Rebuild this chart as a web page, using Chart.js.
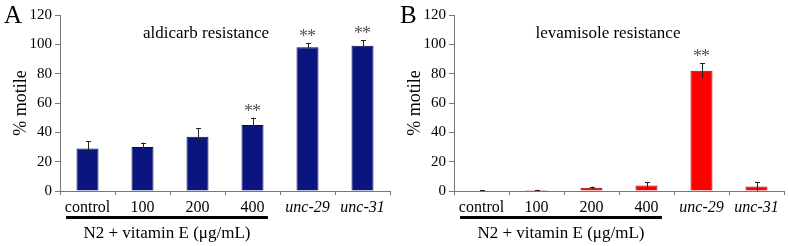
<!DOCTYPE html>
<html>
<head>
<meta charset="utf-8">
<script src="https://cdn.jsdelivr.net/npm/chart.js@4/dist/chart.umd.min.js"></script>
<style>
body{margin:0;background:#fff;}
#wrap{position:relative;width:788px;height:246px;}
.panel{position:absolute;top:0;width:394px;height:246px;}
</style>
</head>
<body>
<div id="wrap">
  <div class="panel" style="left:0"><canvas id="chartA"></canvas></div>
  <div class="panel" style="left:394px"><canvas id="chartB"></canvas></div>
</div>
<script>

// data
const categories=["control","100","200","400","unc-29","unc-31"];
const italicCats=["unc-29","unc-31"];

const aldicarbValues=[29,30,37,45,98,99];
const aldicarbErrors=[5,3,6,5,3,4];
const aldicarbStars=["","","","**","**","**"];

const levamisoleValues=[0.3,0.6,2.2,3.8,82,3];
const levamisoleErrors=[0.2,0.3,0.8,2.2,5,3];
const levamisoleStars=["","","","","**",""];

const yTicks=[0,20,40,60,80,100,120];

const SERIF="'Liberation Serif','Times New Roman',serif";

// ---------------------
// plugin: error bars, stars, group label
// ---------------------

const extras={
    id:"extras",
    afterDatasetsDraw(chart,args,opts){

        const ctx=chart.ctx;
        const x=chart.scales.x;
        const y=chart.scales.y;
        const vals=chart.data.datasets[0].data;

        ctx.save();

        // error bars
        ctx.strokeStyle="#222";
        ctx.lineWidth=1;
        vals.forEach((v,i)=>{
            const e=opts.errors[i];
            const cx=Math.round(x.getPixelForValue(i))+0.5;
            const top=y.getPixelForValue(v+e);
            const bot=y.getPixelForValue(Math.max(v-e,0));
            ctx.beginPath();
            ctx.moveTo(cx,top);ctx.lineTo(cx,bot);
            ctx.moveTo(cx-2.5,Math.round(top)+0.5);ctx.lineTo(cx+2.5,Math.round(top)+0.5);
            ctx.stroke();
        });

        // stars (two asterisks, a little apart)
        ctx.fillStyle="#555";
        ctx.font="18px "+SERIF;
        ctx.textAlign="center";
        ctx.textBaseline="alphabetic";
        vals.forEach((v,i)=>{
            if(!opts.stars[i]) return;
            const cx=x.getPixelForValue(i);
            const top=y.getPixelForValue(v+opts.errors[i]);
            ctx.fillText("*",cx-4,top-1);
            ctx.fillText("*",cx+4,top-1);
        });

        // title
        ctx.fillStyle="#000";
        ctx.font="17px "+SERIF;
        ctx.fillText(opts.title,opts.titleX,38);

        // panel letter
        ctx.textAlign="left";
        ctx.font="25px "+SERIF;
        ctx.fillText(opts.letter,opts.letterX,23);

        // group underline
        const step=x.getPixelForValue(1)-x.getPixelForValue(0);
        const x0=x.getPixelForValue(0)-step*0.39;
        const x1=x.getPixelForValue(3)+step*0.28;
        ctx.fillStyle="#000";
        ctx.fillRect(x0,216,x1-x0,3);

        ctx.textAlign="center";
        ctx.font="17px "+SERIF;
        ctx.fillText("N2 + vitamin E (\u03bcg/mL)",(x0+x1)/2,238);

        ctx.restore();
    }
};

function makeChart(id,values,errors,stars,color,border,title,titleX,letter,letterX){

    new Chart(document.getElementById(id),{

        type:"bar",

        data:{
            labels:categories,
            datasets:[{
                data:values,
                backgroundColor:color,
                borderColor:border,
                borderWidth:1,
                barPercentage:0.8,
                categoryPercentage:0.5
            }]
        },

        options:{
            responsive:false,
            animation:false,
            devicePixelRatio:1,
            layout:{padding:{left:0,right:4,top:15,bottom:0}},
            plugins:{
                legend:{display:false},
                tooltip:{enabled:false},
                extras:{errors:errors,stars:stars,title:title,titleX:titleX,letter:letter,letterX:letterX}
            },
            scales:{
                x:{
                    offset:true,
                    grid:{offset:true,drawOnChartArea:false,drawTicks:true,tickLength:4,color:"#777"},
                    border:{color:"#777",width:1},
                    ticks:{
                        color:"#000",
                        padding:3,
                        maxRotation:0,
                        autoSkip:false,
                        font:(c)=>({family:SERIF,size:16,
                            style:italicCats.includes(categories[c.index])?"italic":"normal"})
                    },
                    afterFit:(s)=>{s.height=55;}
                },
                y:{
                    min:0,
                    max:120,
                    afterBuildTicks:(s)=>{s.ticks=yTicks.map(v=>({value:v}));},
                    grid:{drawOnChartArea:false,drawTicks:true,tickLength:5,color:"#777"},
                    border:{color:"#777",width:1},
                    ticks:{color:"#000",padding:3,font:{family:SERIF,size:15}},
                    title:{display:true,text:"% motile",color:"#000",padding:{top:10,bottom:0},font:{family:SERIF,size:18}},
                    afterFit:(s)=>{s.width=60;}
                }
            }
        },

        plugins:[extras]

    });

}

document.getElementById("chartA").width=394;
document.getElementById("chartA").height=246;
document.getElementById("chartB").width=394;
document.getElementById("chartB").height=246;

makeChart("chartA",aldicarbValues,aldicarbErrors,aldicarbStars,"#0b1580","#050a50","aldicarb resistance",206,"A",4);
makeChart("chartB",levamisoleValues,levamisoleErrors,levamisoleStars,"#ff0000","#a00000","levamisole resistance",214,"B",6);

</script>
</body>
</html>
